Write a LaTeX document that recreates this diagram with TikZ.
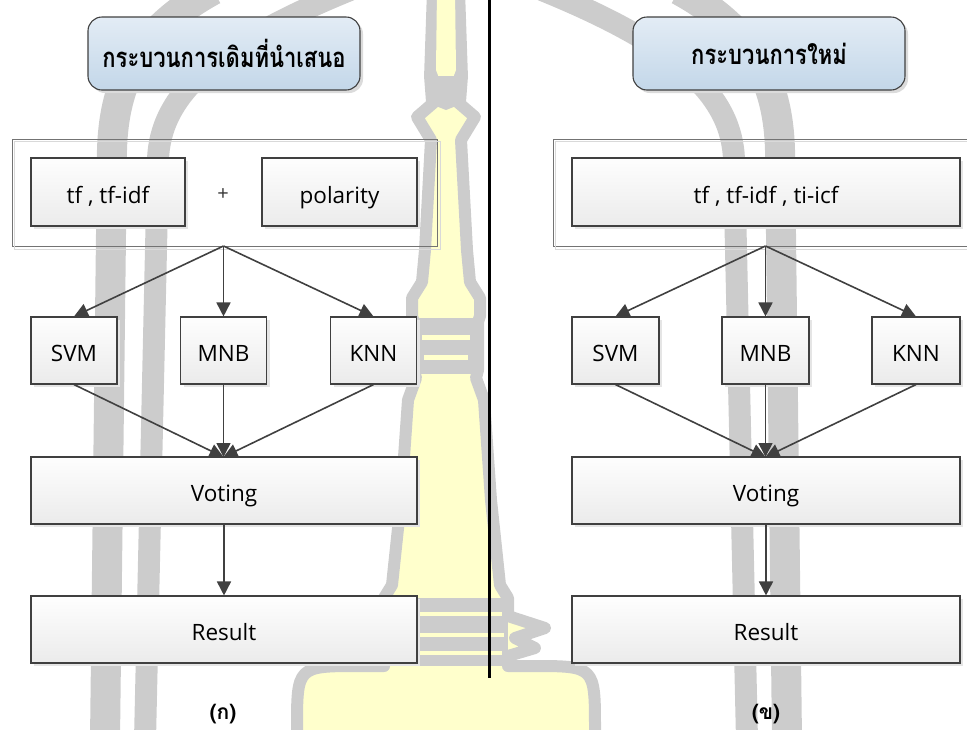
\documentclass[tikz,border=0pt]{standalone}
\usepackage{fontspec}
\setmainfont{Open Sans}
\newfontfamily\thaifont[Script=Thai]{Loma}
\usetikzlibrary{arrows.meta,shadows}

\definecolor{wmgray}{HTML}{CCCCCC}
\definecolor{wmyellow}{HTML}{FFFFCC}
\definecolor{edgecol}{HTML}{404040}
\definecolor{boxtop}{HTML}{FEFEFE}
\definecolor{boxbot}{HTML}{EBEBEB}
\definecolor{headtop}{HTML}{E3ECF5}
\definecolor{headbot}{HTML}{C3D7E9}

\tikzset{
  stagebox/.style={draw=edgecol, line width=1.1pt, top color=boxtop, bottom color=boxbot,
    general shadow={shadow xshift=3pt, shadow yshift=-3pt, fill=black!10},
    font=\fontsize{22.5}{26}\selectfont, text=black, inner sep=0pt,
    text height=23pt, text depth=1pt},
  headbox/.style={draw=edgecol, line width=1.1pt, rounded corners=14pt,
    top color=headtop, bottom color=headbot,
    general shadow={shadow xshift=3pt, shadow yshift=-3pt, fill=black!14},
    font=\thaifont\bfseries\fontsize{22}{26}\selectfont, text=black,
    minimum width=272pt, minimum height=73pt, inner sep=0pt},
  groupbox/.style={draw=black!55, line width=0.9pt, inner sep=0pt},
  groupglow/.style={draw=black!15, line width=0.9pt},
  flow/.style={draw=edgecol, line width=1.6pt, -{Triangle[length=14pt,width=14pt]}},
  caption/.style={font=\thaifont\bfseries\fontsize{21}{25}\selectfont, text=black,
    inner sep=0pt, anchor=base},
  plainlabel/.style={font=\fontsize{20}{24}\selectfont, text=black!80, inner sep=0pt}
}

% outline of the spire and its base
\newcommand\spireoutline{(446,92) -- (475,117) -- (461,140) -- (467,250) -- (470,282) -- (480,298)
  -- (480,316) -- (478,322) -- (478,370) -- (476,378) -- (484,400) -- (491,500) -- (500,585)
  -- (508,598) -- (508,616) -- (545,628) -- (515,638) -- (535,648) -- (508,656) -- (508,666)
  -- (532,666) .. controls (595,666) .. (595,729) -- (595,745) -- (297,745) -- (297,729)
  .. controls (297,666) .. (360,666) -- (384,666) -- (384,656) -- (357,648) -- (377,638)
  -- (347,628) -- (384,616) -- (384,598) -- (392,585) -- (401,500) -- (408,400) -- (416,378)
  -- (414,370) -- (414,322) -- (412,316) -- (412,298) -- (422,282) -- (425,250) -- (431,140)
  -- (417,117) -- cycle}

\newcommand\tallthai[1]{\scalebox{1}[1.25]{#1}}

\begin{document}
\begin{tikzpicture}[x=1pt,y=-1pt]
\useasboundingbox (0,0) rectangle (967,729);
\begin{scope}
\clip (0,0) rectangle (967,729);

% ---------- emblem in the background ----------
\begin{scope}[line join=round]
  \draw[wmgray, line width=30pt] (213,-10) .. controls (140,30) and (114,80) .. (112,150) -- (105,740);
  \draw[wmgray, line width=22pt] (350,-10) .. controls (215,45) and (160,95) .. (158,160) -- (145,740);
  \begin{scope}[shift={(892,0)}, xscale=-1]
    \draw[wmgray, line width=30pt] (213,-10) .. controls (140,30) and (114,80) .. (112,150) -- (105,740);
    \draw[wmgray, line width=22pt] (350,-10) .. controls (215,45) and (160,95) .. (158,160) -- (145,740);
  \end{scope}
  % spire body, rings and base
  \fill[wmyellow] \spireoutline;
  \fill[wmgray] (413,318) rectangle (479,374);
  \fill[wmgray] (384,598) rectangle (508,666);
  \fill[wmyellow] (422,335) rectangle (470,340);
  \fill[wmyellow] (424,355) rectangle (468,360);
  \fill[wmyellow] (390,612) rectangle (502,616);
  \fill[wmyellow] (390,633) rectangle (504,637);
  \fill[wmyellow] (390,651) rectangle (502,655);
  \draw[wmgray, line width=12pt] \spireoutline;
  % spire tip and neck
  \fill[wmgray] (427,-10) -- (424,78) -- (468,78) -- (465,-10) -- cycle;
  \fill[wmyellow] (437,-10) -- (436,70) -- (441,83) -- (446,76) -- (451,83) -- (456,70) -- (455,-10) -- cycle;
  \fill[wmgray] (424,76) -- (468,76) -- (466,102) -- (446,110) -- (426,102) -- cycle;
\end{scope}

% ---------- left panel: original method ----------
\node[headbox] (titleL) at (224,53.5) {\tallthai{กระบวนการเดิมที่นำเสนอ}};

\node[groupbox, minimum width=425pt, minimum height=107pt] (contL) at (224.5,192.5) {};
\draw[groupglow] ([shift={(3,3)}]contL.north west) rectangle ([shift={(3,3)}]contL.south east);

\node[stagebox, minimum width=154pt, minimum height=68pt] (tfL) at (108,192) {tf , tf-idf};
\node[plainlabel] (plusL) at (223,195) {+};
\node[stagebox, minimum width=155pt, minimum height=68pt] (polL) at (339.5,192) {polarity};

\node[stagebox, minimum width=86pt, minimum height=67pt] (svmL) at (74,350.5) {SVM};
\node[stagebox, minimum width=86pt, minimum height=67pt] (mnbL) at (223.5,350.5) {MNB};
\node[stagebox, minimum width=86pt, minimum height=67pt] (knnL) at (373.5,350.5) {KNN};

\node[stagebox, minimum width=386pt, minimum height=67pt] (voteL) at (224,490.5) {Voting};
\node[stagebox, minimum width=386pt, minimum height=67pt] (resL) at (224,629.5) {Result};

\coordinate (forkL) at (223.5,246);
\coordinate (joinL) at (223.5,457);
\draw[flow] (forkL) -- (svmL.north);
\draw[flow] (forkL) -- (mnbL.north);
\draw[flow] (forkL) -- (knnL.north);
\draw[flow] (svmL.south) -- (joinL);
\draw[flow] (mnbL.south) -- (joinL);
\draw[flow] (knnL.south) -- (joinL);
\draw[flow] (voteL.south) -- (resL.north);

\node[caption] (capL) at (223,719) {(ก)};

% ---------- divider ----------
\coordinate (sepTop) at (489,0);
\coordinate (sepBot) at (489,678);
\draw[black, line width=3pt] (sepTop) -- (sepBot);

% ---------- right panel: new method ----------
\node[headbox] (titleR) at (769,53.5) {\tallthai{กระบวนการใหม่}};

\node[groupbox, minimum width=432pt, minimum height=107pt] (contR) at (769,192.5) {};
\draw[groupglow] ([shift={(3,3)}]contR.north west) rectangle ([shift={(3,3)}]contR.south east);

\node[stagebox, minimum width=388pt, minimum height=68pt] (tfR) at (766,192) {tf , tf-idf , ti-icf};

\node[stagebox, minimum width=87pt, minimum height=67pt] (svmR) at (615.5,350.5) {SVM};
\node[stagebox, minimum width=87pt, minimum height=67pt] (mnbR) at (765.5,350.5) {MNB};
\node[stagebox, minimum width=88pt, minimum height=67pt] (knnR) at (916,350.5) {KNN};

\node[stagebox, minimum width=388pt, minimum height=67pt] (voteR) at (766,490.5) {Voting};
\node[stagebox, minimum width=388pt, minimum height=67pt] (resR) at (766,629.5) {Result};

\coordinate (forkR) at (765.5,246);
\coordinate (joinR) at (765.5,457);
\draw[flow] (forkR) -- (svmR.north);
\draw[flow] (forkR) -- (mnbR.north);
\draw[flow] (forkR) -- (knnR.north);
\draw[flow] (svmR.south) -- (joinR);
\draw[flow] (mnbR.south) -- (joinR);
\draw[flow] (knnR.south) -- (joinR);
\draw[flow] (voteR.south) -- (resR.north);

\node[caption] (capR) at (766,719) {(ข)};
\end{scope}
\end{tikzpicture}
\end{document}
